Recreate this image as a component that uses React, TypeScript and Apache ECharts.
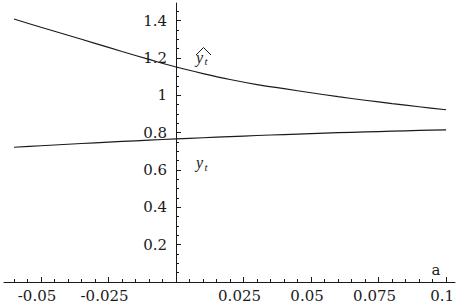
import React, { useEffect, useRef } from "react";
import * as echarts from "echarts";

// parameter a
const aValues = [-0.06, -0.05, -0.04, -0.03, -0.02, -0.01, 0, 0.01, 0.02, 0.03, 0.04, 0.05, 0.06, 0.07, 0.08, 0.09, 0.1];
// upper curve (y-hat_t)
const yHatValues = [1.409, 1.365, 1.322, 1.279, 1.235, 1.193, 1.152, 1.117, 1.085, 1.058, 1.036, 1.014, 0.993, 0.974, 0.956, 0.939, 0.923];
// lower curve (y_t)
const yTValues = [0.722, 0.73, 0.738, 0.746, 0.753, 0.76, 0.767, 0.773, 0.779, 0.785, 0.79, 0.795, 0.8, 0.804, 0.808, 0.812, 0.815];

const xTickLabels = [-0.05, -0.025, 0.025, 0.05, 0.075, 0.1];
const yTickLabels = [0.2, 0.4, 0.6, 0.8, 1, 1.2, 1.4];

const X_MIN = -0.0637;
const X_MAX = 0.1033;
const Y_MIN = 0;
const Y_MAX = 1.495;

function minorTicks(start: number, end: number, step: number, exclude: number[]): number[] {
  const out: number[] = [];
  const n = Math.round((end - start) / step);
  for (let i = 0; i <= n; i++) {
    const v = Math.round((start + i * step) * 100000) / 100000;
    if (v === 0) continue;
    if (exclude.some((e) => Math.abs(e - v) < 1e-9)) continue;
    out.push(v);
  }
  return out;
}

const xMinor = minorTicks(-0.06, 0.1, 0.005, xTickLabels);
const yMinor = minorTicks(0.05, 1.45, 0.05, yTickLabels);

const FONT = "DejaVu Serif";
const INK = "#1a1a1a";

// plot frame in pixels
const G_LEFT = 4;
const G_RIGHT = 6;
const G_TOP = 3;
const G_BOTTOM = 21;
const W = 461;

export default function App() {
  const ref = useRef<HTMLDivElement>(null);

  useEffect(() => {
    if (!ref.current) return;
    const chart = echarts.init(ref.current, null, { renderer: "svg" });

    const hatData = aValues.map((a, i) => [a, yHatValues[i]]);
    const tData = aValues.map((a, i) => [a, yTValues[i]]);

    // pixel of a = 0 (where the vertical axis sits)
    const plotW = W - G_LEFT - G_RIGHT;
    const zeroX = G_LEFT + ((0 - X_MIN) / (X_MAX - X_MIN)) * plotW;

    chart.setOption({
      animation: false,
      backgroundColor: "#ffffff",
      grid: [
        { left: G_LEFT, right: G_RIGHT, top: G_TOP, bottom: G_BOTTOM, containLabel: false, outerBoundsMode: "none" },
        { left: zeroX, right: G_RIGHT, top: G_TOP, bottom: G_BOTTOM, containLabel: false, outerBoundsMode: "none" },
      ],
      xAxis: [
        {
          type: "value",
          gridIndex: 0,
          min: X_MIN,
          max: X_MAX,
          position: "bottom",
          axisLine: { show: true, onZero: false, lineStyle: { color: INK, width: 1 } },
          axisTick: { show: true, inside: true, length: 5, customValues: xTickLabels, lineStyle: { color: INK, width: 1 } },
          axisLabel: {
            show: true,
            customValues: xTickLabels,
            formatter: (v: number) => String(v),
            fontFamily: FONT,
            fontSize: 15,
            color: INK,
            margin: 6,
            padding: [0, 8, 0, 0],
          },
          splitLine: { show: false },
        },
        {
          type: "value",
          gridIndex: 0,
          min: X_MIN,
          max: X_MAX,
          position: "bottom",
          axisLine: { show: false, onZero: false },
          axisTick: { show: true, inside: true, length: 3, customValues: xMinor, lineStyle: { color: INK, width: 1 } },
          axisLabel: { show: false },
          splitLine: { show: false },
        },
        {
          type: "value",
          gridIndex: 1,
          min: 0,
          max: 1,
          show: false,
        },
      ],
      yAxis: [
        {
          type: "value",
          gridIndex: 0,
          min: Y_MIN,
          max: Y_MAX,
          show: false,
        },
        {
          type: "value",
          gridIndex: 1,
          min: Y_MIN,
          max: Y_MAX,
          position: "left",
          axisLine: { show: true, onZero: false, lineStyle: { color: INK, width: 1 } },
          axisTick: { show: true, inside: true, length: 5, customValues: yTickLabels, lineStyle: { color: INK, width: 1 } },
          axisLabel: {
            show: true,
            customValues: yTickLabels,
            formatter: (v: number) => String(v),
            fontFamily: FONT,
            fontSize: 15,
            color: INK,
            margin: 9,
          },
          splitLine: { show: false },
        },
        {
          type: "value",
          gridIndex: 1,
          min: Y_MIN,
          max: Y_MAX,
          position: "left",
          axisLine: { show: false, onZero: false },
          axisTick: { show: true, inside: true, length: 3, customValues: yMinor, lineStyle: { color: INK, width: 1 } },
          axisLabel: { show: false },
          splitLine: { show: false },
        },
      ],
      series: [
        {
          type: "line",
          xAxisIndex: 0,
          yAxisIndex: 0,
          data: hatData,
          showSymbol: false,
          symbol: "none",
          smooth: 0.3,
          lineStyle: { color: INK, width: 1.2 },
          silent: true,
        },
        {
          type: "line",
          xAxisIndex: 0,
          yAxisIndex: 0,
          data: tData,
          showSymbol: false,
          symbol: "none",
          smooth: 0.3,
          lineStyle: { color: INK, width: 1.2 },
          silent: true,
        },
      ],
      graphic: [
        // y-hat_t label
        {
          type: "polyline",
          shape: { points: [[196, 55], [203.5, 47.5], [211, 55]] },
          style: { stroke: INK, lineWidth: 1, fill: "none" },
        },
        {
          type: "text",
          x: 196,
          y: 57,
          style: { text: "y", font: "italic 16px 'Liberation Serif'", fill: INK, textAlign: "left", textVerticalAlign: "middle" },
        },
        {
          type: "text",
          x: 204.5,
          y: 61,
          style: { text: "t", font: "italic 11px 'Liberation Serif'", fill: INK, textAlign: "left", textVerticalAlign: "middle" },
        },
        // y_t label
        {
          type: "text",
          x: 196,
          y: 162.5,
          style: { text: "y", font: "italic 16px 'Liberation Serif'", fill: INK, textAlign: "left", textVerticalAlign: "middle" },
        },
        {
          type: "text",
          x: 204.5,
          y: 166.5,
          style: { text: "t", font: "italic 11px 'Liberation Serif'", fill: INK, textAlign: "left", textVerticalAlign: "middle" },
        },
        // axis name
        {
          type: "text",
          x: 436,
          y: 270,
          style: { text: "a", font: "15px 'DejaVu Serif'", fill: INK, textAlign: "center", textVerticalAlign: "middle" },
        },
      ],
    });

    return () => chart.dispose();
  }, []);

  return (
    <div
      ref={ref}
      style={{ position: "absolute", left: 0, top: 0, width: 461, height: 303 }}
    />
  );
}
